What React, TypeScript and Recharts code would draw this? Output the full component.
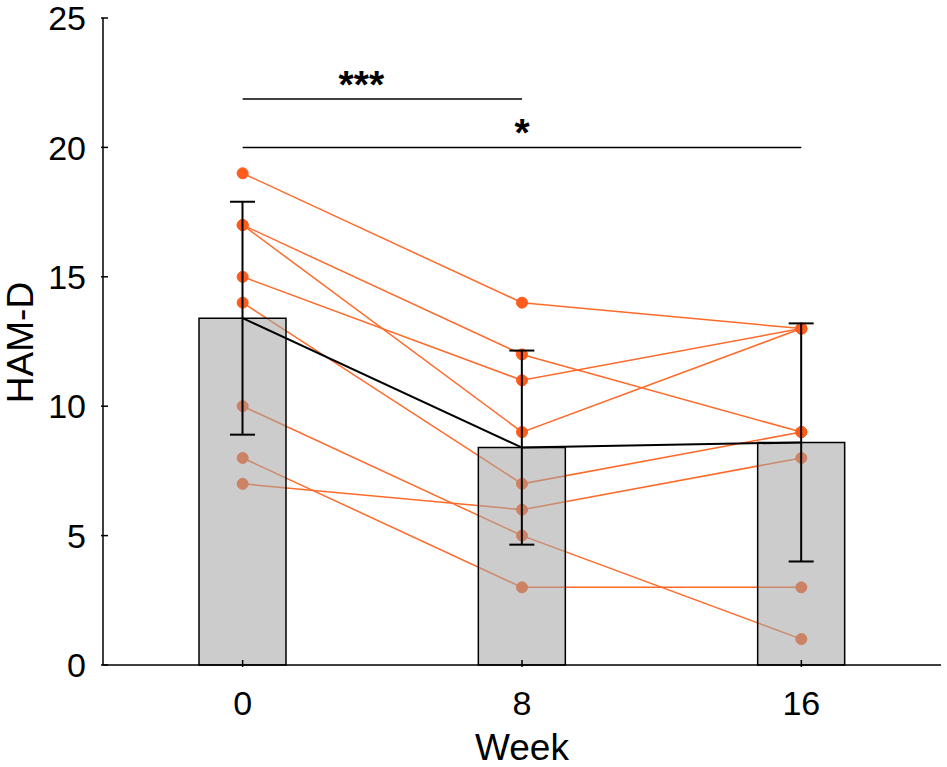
import React from 'react'
import {
  ComposedChart,
  Bar,
  Line,
  XAxis,
  YAxis,
  ErrorBar,
  ReferenceLine,
  ReferenceDot,
} from 'recharts'

const weeks = [0, 8, 16]
const meanScore = [13.4, 8.4, 8.6]
const sdScore = [4.5, 3.75, 4.6]

// one row of HAM-D scores per subject, at weeks 0, 8, 16
const subject1 = [19, 14, 13]
const subject2 = [17, 12, 9]
const subject3 = [17, 9, 13]
const subject4 = [15, 11, 13]
const subject5 = [14, 7, 9]
const subject6 = [10, 5, 1]
const subject7 = [8, 3, 3]
const subject8 = [7, 6, 8]
const subjects = [subject1, subject2, subject3, subject4, subject5, subject6, subject7, subject8]

const yTicks = [0, 5, 10, 15, 20, 25]

const sigBars = [
  { from: 0, to: 8, y: 21.87, label: '***', labelX: 3.4 },
  { from: 0, to: 16, y: 20, label: '*', labelX: 8 },
]

const W = 947
const H = 767
const FONT = '"Liberation Sans", Arial, Helvetica, sans-serif'
const LINE_ORANGE = '#FF6A2B'
const DOT_ORANGE = '#FF5B1C'
const X_DOMAIN = [-4, 20]
const Y_DOMAIN = [0, 25]

const data = weeks.map((w, i) => {
  const row: Record<string, number> = { week: w, mean: meanScore[i], sd: sdScore[i] }
  subjects.forEach((s, k) => {
    row['s' + (k + 1)] = s[i]
  })
  return row
})

function YTick({ x, y, payload }: any) {
  return (
    <g>
      <line x1={x} x2={x + 7} y1={y} y2={y} stroke="#000" strokeWidth={1.5} />
      <text x={x - 15} y={y} dy="0.36em" textAnchor="end" fontSize={34} fontFamily={FONT} fill="#000">
        {payload.value}
      </text>
    </g>
  )
}

function XTick({ x, y, payload }: any) {
  return (
    <g>
      <line x1={x} x2={x} y1={y} y2={y - 7} stroke="#000" strokeWidth={1.5} />
      <text x={x} y={y + 48} textAnchor="middle" fontSize={34} fontFamily={FONT} fill="#000">
        {payload.value}
      </text>
    </g>
  )
}

// subject trajectories sit underneath the translucent bars, so they get their own layer
function SubjectLayer() {
  return (
    <ComposedChart
      width={W}
      height={H}
      data={data}
      margin={{ top: 18, right: 6, bottom: 102, left: 103 }}
    >
      <XAxis dataKey="week" type="number" domain={X_DOMAIN} hide />
      <YAxis type="number" domain={Y_DOMAIN} hide />
      {subjects.map((_, k) => (
        <Line
          key={k}
          dataKey={'s' + (k + 1)}
          type="linear"
          stroke={LINE_ORANGE}
          strokeWidth={1.5}
          dot={{ r: 5.5, fill: DOT_ORANGE, stroke: DOT_ORANGE, strokeWidth: 1 }}
          activeDot={false}
          isAnimationActive={false}
        />
      ))}
    </ComposedChart>
  )
}

function MeanLayer() {
  return (
    <ComposedChart
      width={W}
      height={H}
      data={data}
      margin={{ top: 18, right: 6, bottom: 0, left: 0 }}
    >
      <XAxis
        dataKey="week"
        type="number"
        domain={X_DOMAIN}
        ticks={weeks}
        interval={0}
        height={102}
        tickSize={0}
        tickLine={false}
        axisLine={{ stroke: '#000', strokeWidth: 1.5 }}
        tick={<XTick />}
        label={({ viewBox }: any) => (
          <text
            x={viewBox.x + viewBox.width / 2}
            y={viewBox.y + 95}
            textAnchor="middle"
            fontSize={37}
            fontFamily={FONT}
            fill="#000"
          >
            Week
          </text>
        )}
      />
      <YAxis
        type="number"
        domain={Y_DOMAIN}
        ticks={yTicks}
        interval={0}
        width={103}
        tickSize={0}
        tickLine={false}
        axisLine={{ stroke: '#000', strokeWidth: 1.5 }}
        tick={<YTick />}
        label={({ viewBox }: any) => {
          const cx = 33
          const cy = viewBox.y + viewBox.height / 2 + 1
          return (
            <text
              x={cx}
              y={cy}
              transform={`rotate(-90 ${cx} ${cy})`}
              textAnchor="middle"
              fontSize={37}
              fontFamily={FONT}
              fill="#000"
            >
              HAM-D
            </text>
          )
        }}
      />
      <Bar
        dataKey="mean"
        barSize={87}
        fill="#A2A2A2"
        fillOpacity={0.55}
        stroke="#000"
        strokeWidth={1.5}
        isAnimationActive={false}
      >
        <ErrorBar dataKey="sd" width={12.5} stroke="#000" strokeWidth={2} />
      </Bar>
      <Line
        dataKey="mean"
        type="linear"
        stroke="#000"
        strokeWidth={2}
        dot={false}
        activeDot={false}
        isAnimationActive={false}
      />
      {sigBars.map((s, i) => (
        <ReferenceLine
          key={'l' + i}
          segment={[
            { x: s.from, y: s.y },
            { x: s.to, y: s.y },
          ]}
          stroke="#000"
          strokeWidth={1.5}
          ifOverflow="visible"
        />
      ))}
      {sigBars.map((s, i) => (
        <ReferenceDot
          key={'d' + i}
          x={s.labelX}
          y={s.y}
          r={0}
          fill="none"
          stroke="none"
          ifOverflow="visible"
          label={({ viewBox }: any) => (
            <text
              x={viewBox.x + viewBox.width / 2}
              y={viewBox.y + viewBox.height / 2 - 1}
              textAnchor="middle"
              fontSize={39}
              fontWeight="bold"
              fontFamily={FONT}
              fill="#000"
            >
              {s.label}
            </text>
          )}
        />
      ))}
    </ComposedChart>
  )
}

export default function App() {
  return (
    <div style={{ position: 'relative', width: W, height: H, background: '#fff' }}>
      <style>{'body{margin:0;background:#fff}'}</style>
      <div style={{ position: 'absolute', left: 0, top: 0 }}>
        <SubjectLayer />
      </div>
      <div style={{ position: 'absolute', left: 0, top: 0 }}>
        <MeanLayer />
      </div>
    </div>
  )
}
